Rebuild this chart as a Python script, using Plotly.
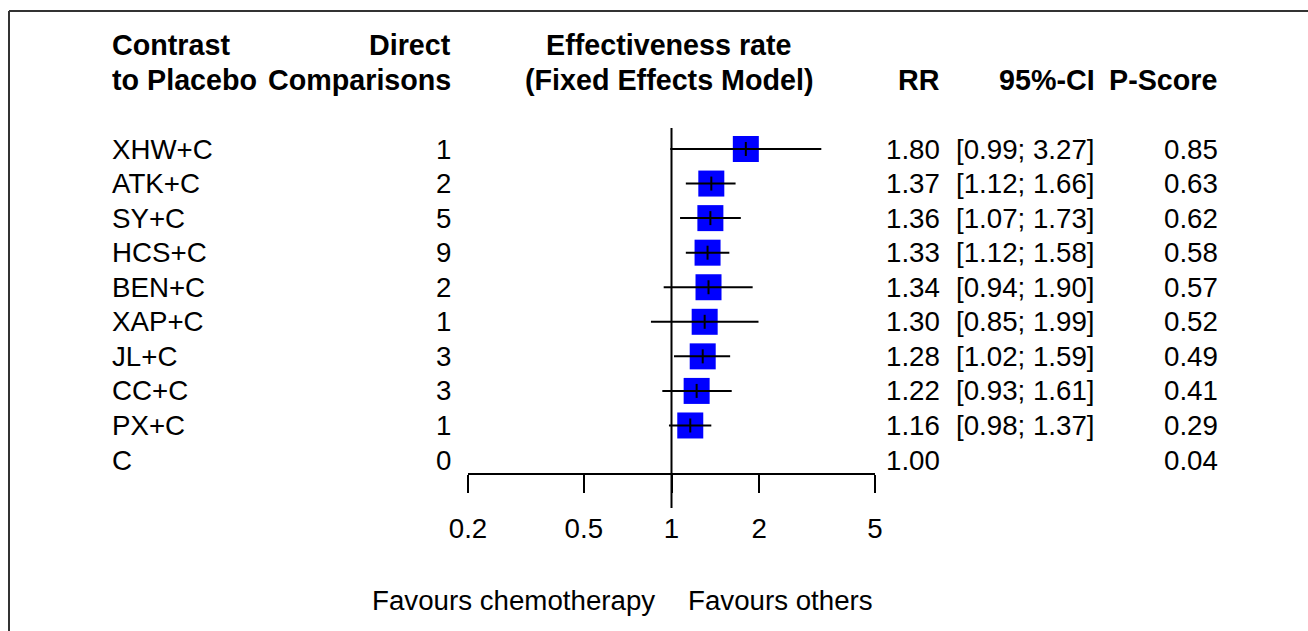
import math
import plotly.graph_objects as go

# ---------------- data ----------------
labels = ["XHW+C", "ATK+C", "SY+C", "HCS+C", "BEN+C", "XAP+C", "JL+C", "CC+C", "PX+C", "C"]
n_direct = [1, 2, 5, 9, 2, 1, 3, 3, 1, 0]
rr = [1.80, 1.37, 1.36, 1.33, 1.34, 1.30, 1.28, 1.22, 1.16, 1.00]
ci_low = [0.99, 1.12, 1.07, 1.12, 0.94, 0.85, 1.02, 0.93, 0.98, None]
ci_high = [3.27, 1.66, 1.73, 1.58, 1.90, 1.99, 1.59, 1.61, 1.37, None]
p_score = [0.85, 0.63, 0.62, 0.58, 0.57, 0.52, 0.49, 0.41, 0.29, 0.04]
tick_vals = [0.2, 0.5, 1, 2, 5]
tick_text = ["0.2", "0.5", "1", "2", "5"]

# ---------------- layout constants ----------------
W, H = 1308, 631
ROW0_PX, ROW_STEP = 149.0, 34.56
FONT = "Liberation Sans, Arial, sans-serif"
FS = 27.7
FSB = 28.7


def px_to_row(py):
    return (py - ROW0_PX) / ROW_STEP


def px_x(px):
    return px / W


rows = list(range(len(labels)))
fig = go.Figure()

# squares (studies with CI)
sq_x = [r for r, lo in zip(rr, ci_low) if lo is not None]
sq_y = [i for i, lo in zip(rows, ci_low) if lo is not None]
fig.add_trace(go.Scatter(
    x=sq_x, y=sq_y, mode="markers",
    marker=dict(symbol="square", size=26, color="#0000FF", line=dict(width=0)),
    hoverinfo="skip", showlegend=False,
))

# CI lines
lx, ly = [], []
for i, lo, hi in zip(rows, ci_low, ci_high):
    if lo is None:
        continue
    lx += [lo, hi, None]
    ly += [i, i, None]
fig.add_trace(go.Scatter(
    x=lx, y=ly, mode="lines", line=dict(color="black", width=2),
    hoverinfo="skip", showlegend=False,
))

# point estimate ticks
fig.add_trace(go.Scatter(
    x=sq_x, y=sq_y, mode="markers",
    marker=dict(symbol="line-ns", size=10, line=dict(color="black", width=2)),
    hoverinfo="skip", showlegend=False,
))

# reference line at 1
fig.add_shape(type="line", xref="x", yref="y", x0=1, x1=1,
              y0=px_to_row(128), y1=px_to_row(508),
              line=dict(color="black", width=2))

# frame lines (top and left)
fig.add_shape(type="line", xref="paper", yref="paper", x0=px_x(9), x1=1.0,
              y0=1 - 11 / H, y1=1 - 11 / H, line=dict(color="#333333", width=2))
fig.add_shape(type="line", xref="paper", yref="paper", x0=px_x(9), x1=px_x(9),
              y0=0, y1=1 - 11 / H, line=dict(color="#333333", width=2))

ann = []


def add_text(text, xpx, row, anchor, bold=False):
    ann.append(dict(
        text=f"<b>{text}</b>" if bold else text,
        x=px_x(xpx), xref="paper", y=row, yref="y",
        xanchor=anchor, yanchor="middle", showarrow=False,
        font=dict(family=FONT, size=FSB if bold else FS, color="black"),
    ))


# headers
add_text("Contrast", 110, -3, "left", True)
add_text("to Placebo", 110, -2, "left", True)
add_text("Direct", 453, -3, "right", True)
add_text("Comparisons", 453, -2, "right", True)
add_text("Effectiveness rate", 669, -3, "center", True)
add_text("(Fixed Effects Model)", 669, -2, "center", True)
add_text("RR", 942, -2, "right", True)
add_text("95%-CI", 1097, -2, "right", True)
add_text("P-Score", 1219, -2, "right", True)

# rows
for i in rows:
    add_text(labels[i], 110, i, "left")
    add_text(str(n_direct[i]), 453, i, "right")
    add_text(f"{rr[i]:.2f}", 942, i, "right")
    if ci_low[i] is not None:
        add_text(f"[{ci_low[i]:.2f}; {ci_high[i]:.2f}]", 1097, i, "right")
    add_text(f"{p_score[i]:.2f}", 1220, i, "right")

# favours labels
add_text("Favours chemotherapy", 657, px_to_row(600), "right")
add_text("Favours others", 686, px_to_row(600), "left")

x0_px, x1_px = 468, 875
fig.update_layout(
    width=W, height=H, autosize=False,
    margin=dict(l=0, r=0, t=0, b=0, pad=0, autoexpand=False),
    paper_bgcolor="white", plot_bgcolor="white",
    showlegend=False,
    annotations=ann,
    xaxis=dict(
        type="log", domain=[x0_px / W, x1_px / W],
        range=[math.log10(tick_vals[0]), math.log10(tick_vals[-1])],
        anchor="free", position=1 - 474 / H, automargin=False,
        showline=True, linecolor="black", linewidth=2,
        ticks="outside", ticklen=18, tickwidth=2, tickcolor="black",
        tickvals=tick_vals, ticktext=tick_text,
        tickfont=dict(family=FONT, size=FS, color="black"),
        ticklabelstandoff=12,
        showgrid=False, zeroline=False, fixedrange=True,
    ),
    yaxis=dict(
        range=[px_to_row(H), px_to_row(0)], domain=[0, 1], automargin=False,
        visible=False, showgrid=False, zeroline=False, fixedrange=True,
    ),
)

fig.write_html("out.html")
